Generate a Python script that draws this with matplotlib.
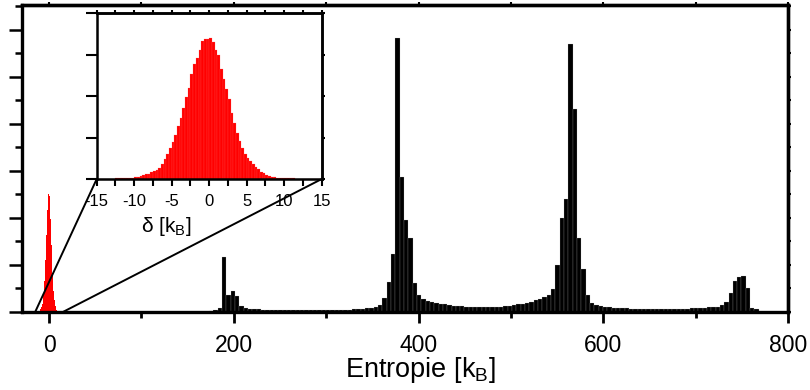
import numpy as np
import matplotlib
matplotlib.use("Agg")
import matplotlib.pyplot as plt
from matplotlib.patches import ConnectionPatch
from matplotlib.ticker import MultipleLocator, NullFormatter

plt.rcParams["font.family"] = ["Liberation Sans", "DejaVu Sans"]
plt.rcParams["mathtext.fontset"] = "custom"
plt.rcParams["mathtext.rm"] = "Liberation Sans"
plt.rcParams["mathtext.it"] = "Liberation Sans:italic"
plt.rcParams["axes.unicode_minus"] = False

# entropy histogram (black), bins of fixed width starting at bin index S_FIRST
S_BIN = 4.685
S_FIRST = 37
s_counts = [
    0.03, 0.05, 0.09, 1.18, 0.36, 0.45, 0.34, 0.13, 0.085, 0.07,
    0.06, 0.055, 0.05, 0.05, 0.045, 0.045, 0.04, 0.04, 0.04, 0.035,
    0.035, 0.035, 0.035, 0.035, 0.035, 0.035, 0.035, 0.04, 0.04, 0.04,
    0.045, 0.05, 0.05, 0.055, 0.06, 0.07, 0.08, 0.09, 0.11, 0.15,
    0.29, 0.63, 1.23, 5.84, 2.88, 1.96, 1.58, 0.61, 0.36, 0.27,
    0.24, 0.22, 0.20, 0.18, 0.16, 0.15, 0.13, 0.12, 0.12, 0.11,
    0.11, 0.10, 0.10, 0.10, 0.10, 0.10, 0.11, 0.11, 0.12, 0.13,
    0.14, 0.16, 0.18, 0.20, 0.22, 0.25, 0.28, 0.31, 0.36, 0.48,
    1.00, 2.01, 2.40, 5.70, 4.32, 1.58, 0.91, 0.36, 0.20, 0.14,
    0.13, 0.11, 0.10, 0.09, 0.09, 0.08, 0.08, 0.07, 0.07, 0.065,
    0.065, 0.065, 0.06, 0.06, 0.06, 0.06, 0.06, 0.065, 0.065, 0.07,
    0.07, 0.08, 0.08, 0.09, 0.09, 0.10, 0.10, 0.11, 0.15, 0.21,
    0.41, 0.67, 0.74, 0.77, 0.52, 0.09, 0.07,
]

# delta distribution (red), 84 bins between -15 and 15
D_RANGE = (-15.0, 15.0)
d_counts = [
    0.01, 0.01, 0.01, 0.01, 0.01, 0.01, 0.01, 0.015, 0.015, 0.02,
    0.02, 0.03, 0.03, 0.035, 0.04, 0.05, 0.08, 0.09, 0.11, 0.13,
    0.17, 0.20, 0.22, 0.27, 0.36, 0.48, 0.60, 0.74, 0.88, 1.05,
    1.27, 1.47, 1.72, 1.97, 2.20, 2.52, 2.78, 2.92, 3.12, 3.33,
    3.37, 3.38, 3.39, 3.30, 3.10, 2.98, 2.66, 2.42, 2.16, 1.92,
    1.60, 1.35, 1.12, 0.92, 0.75, 0.61, 0.51, 0.43, 0.35, 0.30,
    0.25, 0.18, 0.14, 0.10, 0.07, 0.06, 0.05, 0.035, 0.03, 0.025,
    0.02, 0.02, 0.015, 0.015, 0.01, 0.01, 0.01, 0.01, 0.01, 0.01,
    0.01, 0.01, 0.01, 0.01,
]
D_MAIN_SCALE = 0.746  # delta histogram height on the entropy axis

s_counts = np.array(s_counts)
d_counts = np.array(d_counts)
s_left = (S_FIRST + np.arange(len(s_counts))) * S_BIN
d_edges = np.linspace(D_RANGE[0], D_RANGE[1], len(d_counts) + 1)
d_width = d_edges[1] - d_edges[0]

fig = plt.figure(figsize=(8.1, 3.9), dpi=100)
ax = fig.add_axes([0.0272, 0.2, 0.9457, 0.787])
ins = fig.add_axes([0.1194, 0.541, 0.2778, 0.4256])

# main panel
ax.stairs(d_counts * D_MAIN_SCALE, d_edges, fill=True, color="#ff0000",
          zorder=2)
ax.bar(s_left, s_counts, width=S_BIN, align="edge", color="black",
       edgecolor="#bbbbbb", linewidth=0.15, zorder=2)
ax.set_xlim(-29.2, 800)
ax.set_ylim(0, 6.53)
ax.xaxis.set_major_locator(MultipleLocator(200))
ax.xaxis.set_minor_locator(MultipleLocator(100))
ax.yaxis.set_major_locator(MultipleLocator(1))
ax.yaxis.set_minor_locator(MultipleLocator(0.5))
ax.yaxis.set_major_formatter(NullFormatter())
ax.tick_params(axis="x", which="major", direction="out", length=8, width=2,
               labelsize=16.5, pad=8)
ax.tick_params(axis="x", which="minor", direction="out", length=4.5, width=2)
ax.tick_params(axis="y", which="major", direction="out", length=9.5, width=1.8)
ax.tick_params(axis="y", which="minor", direction="out", length=5, width=1.8)
for sp in ax.spines.values():
    sp.set_linewidth(2.4)
ax.set_xlabel("Entropie [k$_\\mathrm{B}$]", fontsize=19.5)
ax.xaxis.set_label_coords(0.52, -0.14)

top = ax.secondary_xaxis("top")
top.xaxis.set_major_locator(MultipleLocator(100))
top.tick_params(direction="out", length=2.5, width=1.5, labeltop=False)
top.spines["top"].set_linewidth(2.4)
right = ax.secondary_yaxis("right")
right.yaxis.set_major_locator(MultipleLocator(0.5))
right.tick_params(direction="out", length=2.5, width=1.5, labelright=False)
right.spines["right"].set_linewidth(2.4)

# inset: zoom on the delta distribution
ins.bar(d_edges[:-1], d_counts, width=d_width, align="edge", color="#ff0000",
        edgecolor="#ff6060", linewidth=0.15)
ins.set_xlim(*D_RANGE)
ins.set_ylim(0, 4)
ins.xaxis.set_major_locator(MultipleLocator(5))
ins.xaxis.set_minor_locator(MultipleLocator(2.5))
ins.yaxis.set_major_locator(MultipleLocator(1))
ins.yaxis.set_major_formatter(NullFormatter())
ins.tick_params(axis="x", which="both", direction="out", length=5, width=1.5,
                labelsize=12, pad=6)
ins.tick_params(axis="y", direction="out", length=8, width=1.5)
for sp in ins.spines.values():
    sp.set_linewidth(1.8)
ins.set_xlabel("δ [k$_\\mathrm{B}$]", fontsize=15)
ins.xaxis.set_label_coords(0.31, -0.215)
itop = ins.secondary_xaxis("top")
itop.xaxis.set_major_locator(MultipleLocator(2.5))
itop.tick_params(direction="out", length=2.5, width=1.5, labeltop=False)
itop.spines["top"].set_linewidth(1.8)
iright = ins.secondary_yaxis("right")
iright.yaxis.set_major_locator(MultipleLocator(1))
iright.tick_params(direction="out", length=2.5, width=1.5, labelright=False)
iright.spines["right"].set_linewidth(1.8)

# zoom lines from the inset corners down to the delta range on the main axis
for x in D_RANGE:
    con = ConnectionPatch(xyA=(x, 0), coordsA=ins.transData,
                          xyB=(x, 0), coordsB=ax.transData,
                          color="black", linewidth=1.4, zorder=5)
    fig.add_artist(con)

fig.savefig("out.png", dpi=100)
